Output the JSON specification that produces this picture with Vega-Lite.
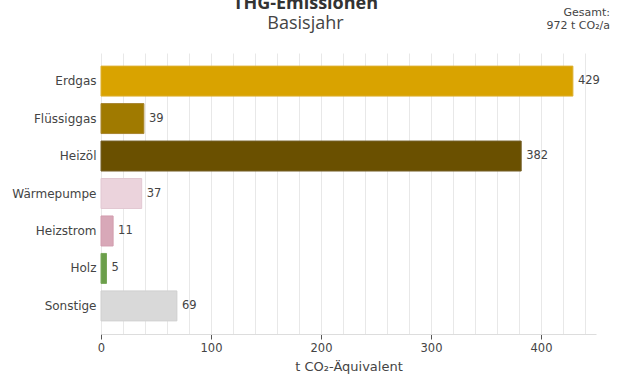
{
  "$schema": "https://vega.github.io/schema/vega-lite/v6.json",
  "width": 495,
  "height": 281,
  "autosize": {"type": "none"},
  "padding": {"left": 101, "top": 53, "right": 34, "bottom": 44},
  "background": "white",
  "title": {
    "text": "THG-Emissionen",
    "subtitle": "Basisjahr",
    "font": "Open Sans",
    "subtitleFont": "Open Sans",
    "fontSize": 18,
    "subtitleFontSize": 18,
    "fontWeight": "bold",
    "subtitleFontWeight": "normal",
    "color": "#333333",
    "subtitleColor": "#444444",
    "anchor": "middle",
    "frame": "group",
    "dx": -43,
    "offset": -26,
    "subtitlePadding": 2
  },
  "config": {
    "view": {"stroke": null},
    "font": "DejaVu Sans"
  },
  "datasets": {
    "bars": [
      {"Energietraeger": "Erdgas", "Wert": 429},
      {"Energietraeger": "Flüssiggas", "Wert": 39},
      {"Energietraeger": "Heizöl", "Wert": 382},
      {"Energietraeger": "Wärmepumpe", "Wert": 37},
      {"Energietraeger": "Heizstrom", "Wert": 11},
      {"Energietraeger": "Holz", "Wert": 5},
      {"Energietraeger": "Sonstige", "Wert": 69}
    ],
    "total": [
      {"Text": ["Gesamt:", "972 t CO₂/a"], "Pos": 450, "Kat": "Erdgas"}
    ]
  },
  "layer": [
    {
      "data": {"name": "bars"},
      "mark": {"type": "bar", "strokeWidth": 1},
      "encoding": {
        "y": {
          "field": "Energietraeger",
          "type": "nominal",
          "sort": null,
          "scale": {
            "domain": ["Erdgas", "Flüssiggas", "Heizöl", "Wärmepumpe", "Heizstrom", "Holz", "Sonstige"],
            "paddingInner": 0.2,
            "paddingOuter": 0.35
          },
          "axis": {
            "title": null,
            "domain": false,
            "ticks": false,
            "labelPadding": 5,
            "labelFontSize": 12,
            "labelColor": "#444444",
            "labelFont": "DejaVu Sans"
          }
        },
        "x": {
          "field": "Wert",
          "type": "quantitative",
          "scale": {"domain": [0, 450], "nice": false},
          "axis": {
            "title": "t CO₂-Äquivalent",
            "titleFont": "DejaVu Sans",
            "titleFontSize": 13,
            "titleFontWeight": "normal",
            "titleColor": "#444444",
            "titlePadding": 7,
            "values": [0, 20, 40, 60, 80, 100, 120, 140, 160, 180, 200, 220, 240, 260, 280, 300, 320, 340, 360, 380, 400, 420, 440],
            "tickCount": 23,
            "labelExpr": "datum.value % 100 === 0 ? datum.label : ''",
            "labelOverlap": false,
            "labelFlush": false,
            "labelFontSize": 11.5,
            "labelColor": "#444444",
            "labelFont": "DejaVu Sans",
            "labelPadding": 3,
            "tickSize": 5,
            "tickColor": {"condition": {"test": "datum.value % 100 === 0", "value": "#555555"}, "value": "rgba(0,0,0,0)"},
            "domainColor": "#dddddd",
            "gridColor": "#e8e8e8",
            "grid": true
          }
        },
        "color": {
          "field": "Energietraeger",
          "type": "nominal",
          "scale": {
            "domain": ["Erdgas", "Flüssiggas", "Heizöl", "Wärmepumpe", "Heizstrom", "Holz", "Sonstige"],
            "range": ["#D9A300", "#A07A00", "#6A5000", "#EBD3DC", "#D8A8B8", "#6B9E4A", "#D9D9D9"]
          },
          "legend": null
        },
        "stroke": {
          "field": "Energietraeger",
          "type": "nominal",
          "scale": {
            "domain": ["Erdgas", "Flüssiggas", "Heizöl", "Wärmepumpe", "Heizstrom", "Holz", "Sonstige"],
            "range": ["#DDB030", "#A88530", "#75602A", "#E2C8D2", "#D29CAE", "#79A85B", "#D0D0D0"]
          },
          "legend": null
        }
      }
    },
    {
      "data": {"name": "bars"},
      "mark": {"type": "text", "align": "left", "baseline": "middle", "dx": 5, "fontSize": 11.5, "color": "#444444", "font": "DejaVu Sans"},
      "encoding": {
        "y": {"field": "Energietraeger", "type": "nominal", "sort": null},
        "x": {"field": "Wert", "type": "quantitative"},
        "text": {"field": "Wert", "type": "quantitative"}
      }
    },
    {
      "data": {"name": "total"},
      "mark": {"type": "text", "align": "right", "baseline": "top", "dx": 14, "dy": -74, "fontSize": 11, "lineHeight": 13, "color": "#444444", "font": "DejaVu Sans"},
      "encoding": {
        "x": {"field": "Pos", "type": "quantitative"},
        "y": {"field": "Kat", "type": "nominal", "sort": null},
        "text": {"field": "Text"}
      }
    }
  ]
}
